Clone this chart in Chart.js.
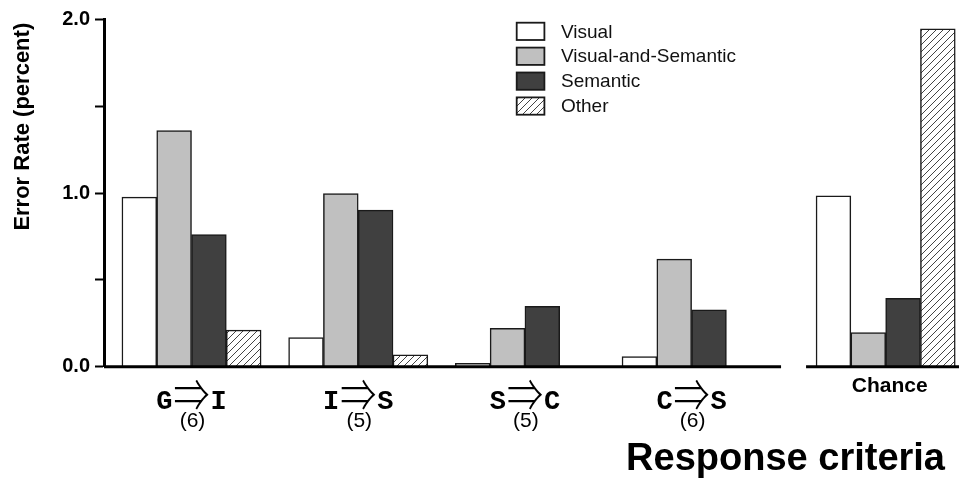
<!DOCTYPE html>
<html>
<head>
<meta charset="utf-8">
<script src="https://cdn.jsdelivr.net/npm/chart.js@4.4.0/dist/chart.umd.min.js"></script>
<style>
  html, body { margin: 0; padding: 0; background: #fff; }
</style>
</head>
<body>
<canvas id="errorChart" width="959" height="484"></canvas>
<script>
// data
const categories = ['G⇒I', 'I⇒S', 'S⇒C', 'C⇒S', 'Chance'];
const itemCounts = ['(6)', '(5)', '(5)', '(6)', ''];
const seriesNames = ['Visual', 'Visual-and-Semantic', 'Semantic', 'Other'];
const visual = [0.976, 0.167, 0.02, 0.058, 0.983];
const visualAndSemantic = [1.359, 0.997, 0.221, 0.619, 0.196];
const semantic = [0.76, 0.901, 0.348, 0.328, 0.394];
const other = [0.211, 0.069, null, null, 1.945];
const yTicks = [0, 0.5, 1, 1.5, 2];
const yTickLabels = ['0.0', '', '1.0', '', '2.0'];

// layout
const chanceGap = 0.164;   // extra space before the "Chance" group
const barWidth = 34.8;
const groupX = categories.map((c, i) => i === categories.length - 1 ? i + chanceGap : i);

function hatchPattern() {
    const tile = document.createElement('canvas');
    tile.width = 7;
    tile.height = 7;
    const t = tile.getContext('2d');
    t.fillStyle = '#fff';
    t.fillRect(0, 0, 7, 7);
    t.strokeStyle = '#444';
    t.lineWidth = 1;
    t.beginPath();
    t.moveTo(-1, 8); t.lineTo(8, -1);
    t.moveTo(-1, 1); t.lineTo(1, -1);
    t.moveTo(6, 8); t.lineTo(8, 6);
    t.stroke();
    return t.createPattern(tile, 'repeat');
}

const fills = ['#ffffff', '#c0c0c0', '#404040', hatchPattern()];
const seriesValues = [visual, visualAndSemantic, semantic, other];

const datasets = seriesValues.map((vals, k) => ({
    label: seriesNames[k],
    data: vals.map((v, i) => ({ x: groupX[i], y: v })),
    backgroundColor: fills[k],
    borderColor: '#1a1a1a',
    borderWidth: 1.5,
    barThickness: barWidth
}));

// broken x axis, category labels, legend and free titles
const decorations = {
    id: 'decorations',
    afterDatasetsDraw(chart) {
        const ctx = chart.ctx;
        const xs = chart.scales.x;
        const ys = chart.scales.y;
        const y0 = ys.getPixelForValue(0);
        const chanceLeft = xs.getPixelForValue(groupX[4]) - barWidth * 2;
        ctx.save();
        ctx.strokeStyle = '#000';
        ctx.lineWidth = 3;
        ctx.beginPath();
        ctx.moveTo(chart.chartArea.left, y0);
        ctx.lineTo(chanceLeft - 35, y0);
        ctx.moveTo(chanceLeft - 10, y0);
        ctx.lineTo(chart.width, y0);
        ctx.stroke();
        ctx.restore();
    },
    afterDraw(chart) {
        const ctx = chart.ctx;
        const xs = chart.scales.x;
        ctx.save();
        ctx.fillStyle = '#000';

        categories.forEach((c, i) => {
            const cx = xs.getPixelForValue(groupX[i]);
            if (i === categories.length - 1) {
                ctx.font = 'bold 21px "Liberation Sans", Arial, sans-serif';
                ctx.textAlign = 'center';
                ctx.textBaseline = 'alphabetic';
                ctx.fillText(c, cx + 4, 392);
                return;
            }
            const parts = Array.from(c);
            ctx.textBaseline = 'alphabetic';
            ctx.font = 'bold 27px "Liberation Mono", "Courier New", monospace';
            ctx.textAlign = 'right';
            ctx.fillText(parts[0], cx - 19, 409);
            ctx.textAlign = 'left';
            ctx.fillText(parts[2], cx + 19, 409);
            // the arrow is taller in the figure than in the font
            ctx.save();
            ctx.translate(cx, 394);
            ctx.scale(1, 1.25);
            ctx.font = '300 36px "Noto Sans CJK JP", sans-serif';
            ctx.textAlign = 'center';
            ctx.fillText(parts[1], 0, 14);
            ctx.restore();
            ctx.font = '21px "Liberation Sans", Arial, sans-serif';
            ctx.textAlign = 'center';
            ctx.fillText(itemCounts[i], cx + 1, 427);
        });

        // legend
        const boxX = 516.7, boxW = 27.7, boxH = 17.3, rowTop = 22.7, rowStep = 24.9;
        chart.data.datasets.forEach((ds, k) => {
            const top = rowTop + k * rowStep;
            ctx.fillStyle = ds.backgroundColor;
            ctx.fillRect(boxX, top, boxW, boxH);
            ctx.strokeStyle = '#1a1a1a';
            ctx.lineWidth = 1.8;
            ctx.strokeRect(boxX, top, boxW, boxH);
            ctx.fillStyle = '#111';
            ctx.font = '19px "Liberation Sans", Arial, sans-serif';
            ctx.textAlign = 'left';
            ctx.textBaseline = 'middle';
            ctx.fillText(ds.label, 561, top + boxH / 2 + 1);
        });

        // y axis title
        ctx.fillStyle = '#000';
        ctx.save();
        ctx.translate(29, 126.7);
        ctx.rotate(-Math.PI / 2);
        ctx.font = 'bold 22px "Liberation Sans", Arial, sans-serif';
        ctx.textAlign = 'center';
        ctx.textBaseline = 'alphabetic';
        ctx.fillText('Error Rate (percent)', 0, 0);
        ctx.restore();

        // x title
        ctx.font = 'bold 38px "Liberation Sans", Arial, sans-serif';
        ctx.textAlign = 'right';
        ctx.textBaseline = 'alphabetic';
        ctx.fillText('Response criteria', 945, 470);
        ctx.restore();
    }
};

new Chart(document.getElementById('errorChart').getContext('2d'), {
    type: 'bar',
    data: { datasets: datasets },
    options: {
        responsive: false,
        animation: false,
        devicePixelRatio: 1,
        events: [],
        layout: { padding: { top: 19.3, left: 0, right: 0, bottom: 0 } },
        plugins: {
            legend: { display: false },
            tooltip: { enabled: false }
        },
        scales: {
            x: {
                type: 'linear',
                min: -0.525,
                max: 4.604,
                offset: false,
                grid: { display: false },
                border: { display: false },
                ticks: { display: false },
                afterFit: (s) => { s.height = 117.3; }
            },
            y: {
                min: 0,
                max: 2,
                afterBuildTicks: (s) => { s.ticks = yTicks.map(v => ({ value: v })); },
                ticks: {
                    callback: (v, i) => yTickLabels[i],
                    color: '#000',
                    padding: 5,
                    font: { family: '"Liberation Sans", Arial, sans-serif', size: 20, weight: 'bold' }
                },
                grid: { drawOnChartArea: false, tickLength: 9, tickWidth: 2, tickColor: '#000' },
                border: { color: '#000', width: 3 },
                afterFit: (s) => { s.width = 104; }
            }
        }
    },
    plugins: [decorations]
});
</script>
</body>
</html>
